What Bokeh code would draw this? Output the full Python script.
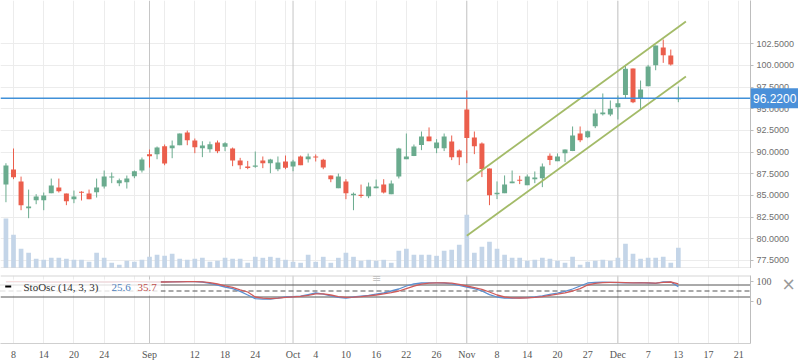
from bokeh.plotting import figure
from bokeh.layouts import column, row
from bokeh.models import FixedTicker, Span, Label, Range1d, PrintfTickFormatter, ColumnDataSource
from bokeh.core.properties import value
from bokeh.embed import file_html
from bokeh.resources import INLINE

# ---------------- data ----------------
opens = [86.26, 87.99, 86.61, 83.53, 84.45, 84.45, 85.26, 85.92, 85.22, 84.57,
         85.42, 85.22, 85.38, 86.03, 87.07, 86.42, 86.53, 87.22, 87.88, 89.76,
         89.76, 90.68, 90.45, 90.80, 92.26, 91.34, 90.45, 90.34, 91.11, 90.61,
         90.42, 89.03, 88.34, 88.30, 89.03, 88.73, 88.03, 88.92, 88.34, 89.50,
         89.19, 89.50, 89.11, 87.30, 85.84, 86.61, 85.03, 85.07, 84.92, 85.84,
         86.27, 85.15, 87.19, 89.19, 89.54, 90.81, 91.81, 90.46, 90.46, 91.23,
         90.19, 94.92, 91.69, 91.00, 88.12, 85.15, 85.27, 86.42, 86.81, 86.19,
         86.88, 87.00, 89.58, 88.96, 89.88, 90.12, 92.15, 91.73, 93.00, 94.38,
         94.35, 95.19, 96.58, 99.65, 96.18, 97.61, 100.03, 102.07, 101.15, 96.15]
highs = [88.72, 90.42, 87.18, 85.68, 85.15, 85.34, 86.95, 86.95, 85.22, 85.57,
         85.49, 85.68, 86.95, 87.88, 87.65, 86.95, 87.30, 87.88, 89.38, 90.30,
         90.65, 90.88, 91.34, 92.15, 92.49, 91.57, 91.26, 91.22, 91.34, 91.15,
         90.53, 89.34, 88.99, 90.07, 89.50, 89.23, 89.50, 89.61, 89.11, 89.61,
         89.84, 89.73, 89.23, 87.30, 87.53, 86.88, 85.34, 86.26, 86.49, 86.84,
         86.88, 86.73, 90.50, 92.15, 90.88, 92.38, 92.85, 91.50, 92.15, 91.92,
         90.31, 97.12, 92.38, 91.12, 88.12, 86.62, 87.31, 87.88, 87.27, 87.42,
         87.77, 88.69, 89.85, 89.85, 90.31, 92.96, 92.96, 92.50, 94.92, 96.77,
         95.96, 96.54, 100.08, 99.65, 98.26, 100.07, 102.30, 102.99, 101.84, 97.57]
lows = [84.22, 86.88, 83.30, 82.38, 83.99, 83.30, 85.26, 85.34, 83.88, 84.11,
        84.42, 84.57, 84.76, 85.80, 86.42, 86.07, 85.80, 86.99, 87.65, 88.22,
        89.18, 88.49, 89.30, 90.80, 90.80, 89.88, 89.42, 89.95, 89.88, 90.11,
        88.38, 88.03, 88.03, 88.19, 88.15, 87.57, 87.80, 88.03, 87.80, 88.50,
        88.80, 88.92, 88.03, 86.53, 85.84, 84.57, 83.30, 84.73, 84.69, 85.84,
        85.23, 85.15, 86.96, 89.19, 89.54, 90.23, 91.27, 89.88, 90.12, 89.08,
        88.50, 88.73, 89.77, 87.12, 83.88, 84.58, 85.27, 86.42, 86.31, 86.19,
        86.42, 85.96, 88.50, 88.96, 88.85, 90.12, 91.15, 91.62, 92.77, 94.23,
        94.15, 93.77, 96.15, 95.65, 94.95, 97.61, 99.45, 100.30, 99.99, 95.76]
closes = [88.45, 87.11, 83.88, 83.72, 84.88, 84.99, 86.15, 85.49, 84.34, 84.88,
          85.30, 84.57, 85.92, 87.18, 87.18, 86.76, 86.95, 87.80, 89.15, 89.53,
          90.53, 88.68, 90.76, 92.15, 91.38, 90.57, 90.76, 90.92, 90.11, 91.03,
          89.03, 88.49, 88.18, 88.46, 88.73, 89.15, 88.80, 88.19, 88.92, 88.50,
          89.50, 89.38, 88.23, 86.88, 87.19, 85.26, 85.19, 84.96, 86.03, 86.03,
          85.35, 86.38, 90.42, 89.50, 90.65, 91.81, 91.27, 91.12, 91.81, 89.42,
          89.42, 91.62, 90.69, 88.04, 85.04, 85.31, 86.27, 86.62, 86.69, 87.19,
          87.08, 88.35, 89.08, 89.50, 90.31, 91.92, 91.38, 92.42, 94.46, 94.58,
          95.00, 95.65, 99.62, 95.76, 97.22, 99.88, 102.30, 101.18, 100.11, 96.22]
volumes = [50.0, 33.7, 19.7, 15.7, 9.7, 8.7, 10.7, 10.7, 9.7, 8.7,
           8.7, 6.7, 15.7, 10.7, 5.7, 3.7, 7.7, 6.7, 8.7, 11.7,
           13.7, 12.7, 14.7, 9.7, 8.7, 9.7, 10.7, 6.7, 7.7, 10.7,
           9.7, 9.7, 5.7, 11.7, 10.7, 11.7, 10.7, 8.7, 6.7, 5.7,
           13.7, 6.7, 11.7, 5.7, 10.7, 15.7, 11.7, 7.7, 8.7, 7.7,
           8.7, 5.7, 17.7, 19.7, 13.7, 13.7, 13.7, 12.7, 17.7, 18.7,
           23.7, 53.7, 15.7, 21.7, 26.7, 19.7, 13.7, 10.7, 10.7, 7.7,
           8.7, 10.7, 9.7, 7.7, 5.7, 11.7, 3.7, 6.7, 7.7, 8.7,
           7.7, 10.7, 24.7, 14.7, 9.7, 10.7, 10.7, 11.7, 5.7, 20.7]
stoch_k = [96, 97, 97, 96, 96, 95, 95, 95, 96, 96,
           96, 96, 95, 95, 96, 97, 97, 97, 96, 95,
           95, 96, 96, 97, 97, 97, 95, 88, 80, 70,
           62, 48, 30, 12, 9, 10, 14, 20, 22, 24,
           32, 40, 34, 26, 18, 15, 20, 24, 28, 34,
           40, 50, 60, 75, 86, 90, 91, 91, 90, 86,
           78, 70, 62, 50, 32, 20, 14, 14, 16, 17,
           20, 26, 33, 39, 48, 60, 75, 90, 93, 94,
           93, 92, 91, 91, 92, 90, 88, 96, 95, 72]
stoch_d = [97, 97, 97, 97, 96, 96, 95, 95, 95, 96,
           96, 96, 96, 95, 95, 96, 96, 97, 97, 96,
           95, 95, 96, 96, 97, 97, 96, 92, 85, 76,
           68, 56, 45, 20, 14, 12, 14, 18, 21, 23,
           28, 36, 36, 30, 22, 18, 19, 22, 26, 30,
           36, 42, 50, 62, 74, 84, 89, 91, 91, 89,
           83, 75, 67, 58, 45, 30, 20, 16, 15, 16,
           18, 22, 28, 34, 41, 50, 62, 80, 88, 92,
           93, 93, 92, 91, 91, 91, 89, 93, 95, 86]
channel_x = [61, 90]
channel_upper = [86.65, 105.07]
channel_lower = [80.35, 98.73]
last_price = 96.22
price_ticks = [77.5, 80.0, 82.5, 85.0, 87.5, 90.0, 92.5, 95.0, 97.5, 100.0, 102.5]
label_ticks = [1, 5, 9, 13, 19, 25, 29, 33, 38, 41, 45, 49, 53, 57, 61, 65, 69, 73, 77, 81, 85, 89, 93, 97]
tick_labels = ["8", "14", "20", "24", "Sep", "12", "18", "24", "Oct", "4", "10", "16",
               "22", "26", "Nov", "8", "14", "20", "27", "Dec", "7", "13", "17", "21"]
grid_ticks = list(range(1, 98, 4))
month_ticks = [19, 38, 61, 81]
stoch_levels = [80, 50, 20]
stoch_ticks = [0, 100]
legend_title = "StoOsc (14, 3, 3)"
legend_k = "25.6"
legend_d = "35.7"

# ---------------- styling / geometry ----------------
GREEN = "#6aab8e"
RED = "#eb5e4c"
GRID = "#ececec"
MONTH = "#c6c6c6"
W, H1, H2 = 798, 268, 95
AXIS_W = 48
S_TOP_BORDER, S_BOTTOM_BORDER = 7, 20
X_START, X_END = -0.7214, 98.55
P_LO, P_HI = 76.574, 107.496
S_LO, S_HI = -212.5, 127.5
PX_PER_K = (W - AXIS_W) / (X_END - X_START)
PX_PER_S = (H2 - S_TOP_BORDER - S_BOTTOM_BORDER) / (S_HI - S_LO)
K_RIGHT = X_END + AXIS_W / PX_PER_K

idx = list(range(len(opens)))
inc = [c >= o for o, c in zip(opens, closes)]
body_top = [max(o, c) for o, c in zip(opens, closes)]
body_bot = [min(o, c) for o, c in zip(opens, closes)]
body_bot = [b if t - b > 0.12 else t - 0.12 for t, b in zip(body_top, body_bot)]
colors = [GREEN if u else RED for u in inc]
src = ColumnDataSource(dict(x=idx, o=opens, h=highs, l=lows, c=closes,
                            top=body_top, bot=body_bot, col=colors, vol=volumes))


def transparent(fig):
    fig.grid.visible = False
    fig.outline_line_color = None
    fig.background_fill_color = None
    fig.border_fill_color = None
    return fig


# ---------------- main price panel ----------------
p1 = figure(width=W, height=H1, x_range=Range1d(X_START, X_END),
            y_range=Range1d(P_LO, P_HI), output_backend="svg",
            toolbar_location=None, x_axis_location=None, y_axis_location="right",
            min_border_left=0, min_border_right=AXIS_W, min_border_top=0, min_border_bottom=0)
p1.outline_line_color = None
p1.background_fill_color = "white"
p1.xgrid.ticker = FixedTicker(ticks=grid_ticks)
p1.xgrid.grid_line_color = GRID
p1.ygrid.grid_line_color = GRID
p1.yaxis.ticker = FixedTicker(ticks=price_ticks)
p1.yaxis.formatter = PrintfTickFormatter(format="%.4f")
p1.yaxis.major_label_text_font = "Liberation Sans"
p1.yaxis.major_label_text_font_size = "9px"
p1.yaxis.major_label_text_color = "#6f6f6f"
p1.yaxis.axis_line_color = "#bdbdbd"
p1.yaxis.major_tick_line_color = "#bdbdbd"
p1.yaxis.major_tick_in = 0
p1.yaxis.major_tick_out = 3
p1.yaxis.minor_tick_line_color = None
p1.yaxis.major_label_standoff = 3

for m in month_ticks:
    p1.add_layout(Span(location=m, dimension="height", line_color=MONTH, line_width=1, level="underlay"))
p1.add_layout(Span(location=P_LO, dimension="width", line_color="#d6d6d6", line_width=2))

p1.extra_y_ranges = {"vol": Range1d(0, H1)}
p1.vbar(x="x", top="vol", bottom=0, width=0.62, source=src, y_range_name="vol",
        fill_color="#c4d5e8", line_color=None)
p1.segment(x0="x", y0="l", x1="x", y1="h", source=src, line_color="col", line_width=1)
p1.vbar(x="x", top="top", bottom="bot", width=0.66, source=src, fill_color="col", line_color=None)

p1.add_layout(Span(location=last_price, dimension="width", line_color="#4090d8", line_width=1.5))
p1.line(channel_x, channel_upper, line_color="#a3bb68", line_width=1.8)
p1.line(channel_x, channel_lower, line_color="#a3bb68", line_width=1.8)

# last-price tag: transparent strip laid over the price axis, sharing its y scale
ptag = transparent(figure(width=AXIS_W, height=H1, x_range=Range1d(0, AXIS_W), y_range=p1.y_range,
                          output_backend="svg", toolbar_location=None,
                          x_axis_location=None, y_axis_location=None,
                          min_border_left=0, min_border_right=0, min_border_top=0,
                          min_border_bottom=0, margin=(0, 0, 0, -AXIS_W)))
ptag.rect(x=[AXIS_W / 2], y=[last_price], width=AXIS_W, height=20, height_units="screen",
          fill_color="#4a90d9", line_color=None)
ptag.text(x=[2.5], y=[last_price], text=["%.4f" % last_price], text_align="left",
          text_baseline="middle", text_font=value("Liberation Sans"), text_font_size="12px",
          text_color="white")

# ---------------- stochastic panel ----------------
p2 = figure(width=W, height=H2, x_range=p1.x_range, y_range=Range1d(S_LO, S_HI),
            output_backend="svg", toolbar_location=None, y_axis_location="right",
            min_border_left=0, min_border_right=AXIS_W, min_border_top=S_TOP_BORDER,
            min_border_bottom=S_BOTTOM_BORDER)
p2.outline_line_color = None
p2.ygrid.visible = False
p2.xgrid.ticker = FixedTicker(ticks=grid_ticks)
p2.xgrid.grid_line_color = GRID
p2.xaxis.ticker = FixedTicker(ticks=label_ticks)
p2.xaxis.major_label_overrides = {t: s for t, s in zip(label_ticks, tick_labels)}
p2.xaxis.major_label_text_font = "Liberation Serif"
p2.xaxis.major_label_text_font_size = "10px"
p2.xaxis.major_label_text_color = "#555555"
p2.xaxis.axis_line_color = "#cfcfcf"
p2.xaxis.major_tick_out = 0
p2.xaxis.major_tick_in = 0
p2.xaxis.minor_tick_line_color = None
p2.xaxis.major_label_standoff = 5
p2.yaxis.ticker = FixedTicker(ticks=stoch_ticks)
p2.yaxis.major_label_text_font = "Liberation Serif"
p2.yaxis.major_label_text_font_size = "10px"
p2.yaxis.major_label_text_color = "#666666"
p2.yaxis.axis_line_color = "#bdbdbd"
p2.yaxis.major_tick_line_color = "#bdbdbd"
p2.yaxis.major_tick_in = 0
p2.yaxis.major_tick_out = 3
p2.yaxis.minor_tick_line_color = None
p2.yaxis.major_label_standoff = 3

for m in month_ticks:
    p2.add_layout(Span(location=m, dimension="height", line_color=MONTH, line_width=1, level="underlay"))
p2.add_layout(Span(location=S_HI, dimension="width", line_color="#d6d6d6", line_width=2))
for lv in stoch_levels:
    p2.add_layout(Span(location=lv, dimension="width", line_color="#555555", line_width=1,
                       line_dash="5 3" if lv == 50 else "solid", level="underlay"))

p2.line(idx, stoch_k, line_color="#5b8fd0", line_width=1.3)
p2.line(idx, stoch_d, line_color="#cf5b5b", line_width=1.3)
p2.quad(left=X_START, right=20.5, bottom=27.5, top=107.5, fill_color="white",
        fill_alpha=0.8, line_color=None)
p2.rect(x=[0.3], y=[72], width=6, height=2, width_units="screen", height_units="screen",
        fill_color="black", line_color=None)
p2.add_layout(Label(x=2.32, y=70, text=legend_title, text_align="left", text_baseline="middle",
                    text_font="Liberation Serif", text_font_size="11px", text_color="#333333"))
p2.add_layout(Label(x=13.97, y=70, text=legend_k, text_align="left", text_baseline="middle",
                    text_font="Liberation Serif", text_font_size="11px", text_color="#4f81bd"))
p2.add_layout(Label(x=17.41, y=70, text=legend_d, text_align="left", text_baseline="middle",
                    text_font="Liberation Serif", text_font_size="11px", text_color="#c0504d"))

# pane controls (resize handle, close icon): transparent full-size layer over the stochastic panel
pctl = transparent(figure(width=W, height=H2, x_range=Range1d(X_START, K_RIGHT),
                          y_range=Range1d(S_LO - S_BOTTOM_BORDER / PX_PER_S,
                                          S_HI + S_TOP_BORDER / PX_PER_S),
                          output_backend="svg", toolbar_location=None,
                          x_axis_location=None, y_axis_location=None,
                          min_border_left=0, min_border_right=0, min_border_top=0,
                          min_border_bottom=0, margin=(0, 0, 0, -W)))
pctl.text(x=[X_END + 38 / PX_PER_K], y=[100], text=["\u00d7"], text_align="center",
          text_baseline="middle", text_font=value("DejaVu Sans"), text_font_size="17px",
          text_color="#9a9a9a")
pctl.text(x=[49.05], y=[S_HI + 3.5 / PX_PER_S], text=["\u2261"], text_align="center",
          text_baseline="middle", text_font=value("DejaVu Sans"), text_font_size="11px",
          text_color="#c4c4c4")

layout = column(row(p1, ptag, spacing=0), row(p2, pctl, spacing=0), spacing=0)
open("out.html", "w").write(file_html(layout, INLINE))
